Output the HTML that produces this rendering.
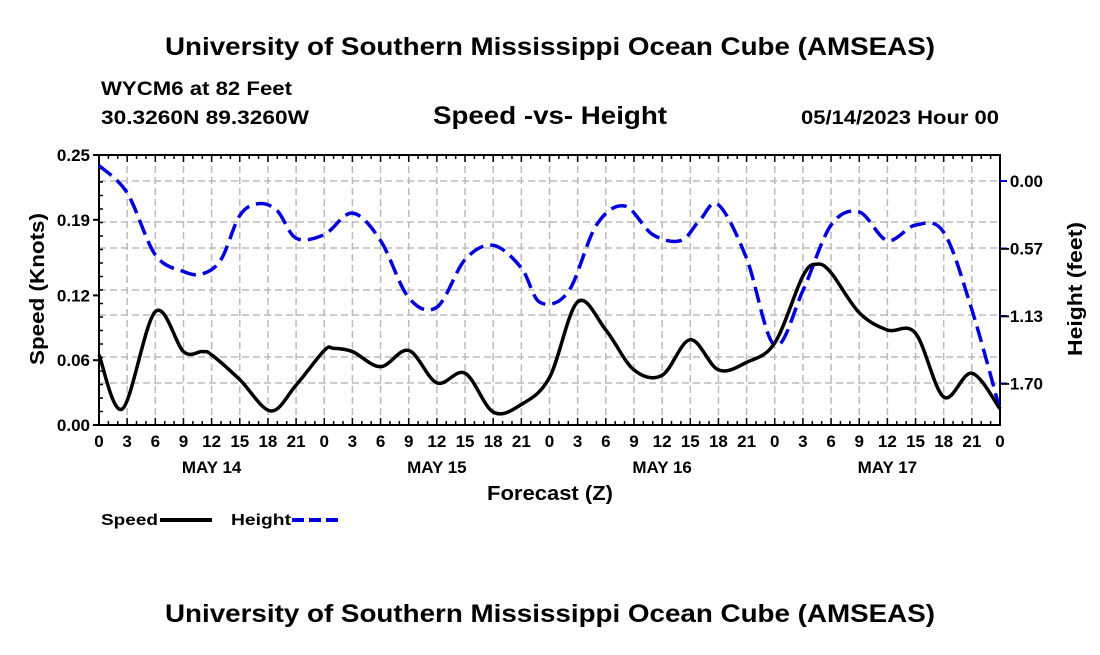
<!DOCTYPE html>
<html><head><meta charset="utf-8"><style>
body{margin:0;background:#fff;}
svg text{font-family:"Liberation Sans",Arial,sans-serif;font-weight:bold;fill:#000;}
</style></head><body>
<svg id="c" width="1100" height="650" xmlns="http://www.w3.org/2000/svg">
<text x="550" y="55" text-anchor="middle" font-size="25" textLength="770" lengthAdjust="spacingAndGlyphs">University of Southern Mississippi Ocean Cube (AMSEAS)</text>
<text x="101" y="95" font-size="19" textLength="191" lengthAdjust="spacingAndGlyphs">WYCM6 at 82 Feet</text>
<text x="101" y="124" font-size="19" textLength="208" lengthAdjust="spacingAndGlyphs">30.3260N  89.3260W</text>
<text x="550" y="124" text-anchor="middle" font-size="25" textLength="234" lengthAdjust="spacingAndGlyphs">Speed -vs- Height</text>
<text x="999" y="124" text-anchor="end" font-size="19" textLength="198" lengthAdjust="spacingAndGlyphs">05/14/2023 Hour 00</text>
<g id="grid"></g><g id="axes"></g><g id="series"></g>
<text x="550" y="500" text-anchor="middle" font-size="20" textLength="126" lengthAdjust="spacingAndGlyphs">Forecast (Z)</text>
<text transform="translate(44,289) rotate(-90)" text-anchor="middle" font-size="20" textLength="152" lengthAdjust="spacingAndGlyphs">Speed (Knots)</text>
<text transform="translate(1082,289) rotate(-90)" text-anchor="middle" font-size="20" textLength="134" lengthAdjust="spacingAndGlyphs">Height (feet)</text>
<g>
<text x="101" y="525" font-size="16" textLength="57" lengthAdjust="spacingAndGlyphs">Speed</text>
<line x1="160" y1="520" x2="212" y2="520" stroke="#000" stroke-width="4"/>
<text x="231" y="525" font-size="16" textLength="60" lengthAdjust="spacingAndGlyphs">Height</text>
<line x1="292" y1="520" x2="342" y2="520" stroke="#0000dd" stroke-width="4" stroke-dasharray="12,5"/>
</g>
<text x="550" y="622" text-anchor="middle" font-size="25" textLength="770" lengthAdjust="spacingAndGlyphs">University of Southern Mississippi Ocean Cube (AMSEAS)</text>
</svg>
<script>
const speedHours=[0,2.5,6,9,11,12,15,18.3,21,24,25,27,30,33,36,39,42,45,48,51,54,57,60,63,66,69,72,75,76.5,78,81,84,87,90,93,96];
const speedVals=[0.065,0.015,0.105,0.068,0.068,0.065,0.042,0.013,0.037,0.069,0.071,0.068,0.054,0.069,0.039,0.048,0.012,0.019,0.044,0.114,0.088,0.051,0.046,0.079,0.051,0.058,0.076,0.138,0.149,0.141,0.104,0.088,0.085,0.026,0.048,0.015];
const heightHours=[0,3,6,9,11,13,15,17,19,21,24,27,30,33,36,39,42,45,47,50,53,56,59,62,64,66,69,72,75,78,81,84,87,90,93,96];
const heightVals=[0.13,-0.10,-0.62,-0.76,-0.78,-0.66,-0.29,-0.19,-0.25,-0.48,-0.45,-0.27,-0.50,-0.98,-1.06,-0.66,-0.54,-0.73,-1.02,-0.93,-0.37,-0.21,-0.45,-0.50,-0.33,-0.20,-0.65,-1.38,-0.92,-0.37,-0.26,-0.50,-0.37,-0.43,-1.08,-1.92];
const leftTicks=[0,0.06,0.12,0.19,0.25];
const leftTickLabels=["0.00","0.06","0.12","0.19","0.25"];
const rightTicks=[0,-0.5667,-1.1333,-1.70];
const rightTickLabels=["0.00","\u22120.57","\u22121.13","\u22121.70"];
const dayLabels=["MAY 14","MAY 15","MAY 16","MAY 17"];
const X0=99,X1=1000,Y0=425,Y1=155;
const xs=h=>X0+(X1-X0)*h/96;
const ys=v=>Y0-(Y0-Y1)*v/0.25;
const yh=v=>181-v*67.5/0.5667;
const NS="http://www.w3.org/2000/svg";
function mk(p,t,a){const e=document.createElementNS(NS,t);for(const k in a)e.setAttribute(k,a[k]);p.appendChild(e);return e;}
const grid=document.getElementById('grid'),axes=document.getElementById('axes'),ser=document.getElementById('series');
for(let h=3;h<96;h+=3){const l=mk(grid,'line',{x1:xs(h),x2:xs(h),y1:Y1,y2:Y0,stroke:'#bbb','stroke-width':1.5,'stroke-dasharray':'7,4'});

}
[181,222,248,290,315,357,383].forEach(y=>{const l=mk(grid,'line',{x1:X0,x2:X1,y1:y,y2:y,stroke:'#bbb','stroke-width':1.5,'stroke-dasharray':'7,4'});

});
const f=mk(axes,'rect',{x:X0,y:Y1,width:X1-X0,height:Y0-Y1,fill:'none',stroke:'#000','stroke-width':2});


for(let h=0;h<=96;h+=1){const len=h%3==0?7:4;mk(axes,'line',{x1:xs(h),x2:xs(h),y1:Y0,y2:Y0-len,stroke:'#000','stroke-width':1.5});mk(axes,'line',{x1:xs(h),x2:xs(h),y1:Y1,y2:Y1+len,stroke:'#000','stroke-width':1.5});}
for(let v=0;v<=0.25;v+=0.0125){mk(axes,'line',{x1:X0,x2:X0+4,y1:ys(v),y2:ys(v),stroke:'#000','stroke-width':1.5});}
for(let h=0;h<=96;h+=3){const t=mk(axes,'text',{x:xs(h),y:Y0+22,'text-anchor':'middle','font-size':17});t.textContent=String(h%24);

}
dayLabels.forEach((d,i)=>{const t=mk(axes,'text',{x:xs(12+24*i),y:Y0+48,'text-anchor':'middle','font-size':17});t.textContent=d;

});
leftTicks.forEach((v,i)=>{mk(axes,'line',{x1:X0-6,x2:X0,y1:ys(v),y2:ys(v),stroke:'#000','stroke-width':2});
const t=mk(axes,'text',{x:X0-9,y:ys(v)+6,'text-anchor':'end','font-size':17});t.textContent=leftTickLabels[i];

});
rightTicks.forEach((v,i)=>{mk(axes,'line',{x1:X1,x2:X1+7,y1:yh(v),y2:yh(v),stroke:'#0000dd','stroke-width':2});
const t=mk(axes,'text',{x:1043,y:yh(v)+6,'text-anchor':'end','font-size':17});t.textContent=rightTickLabels[i];

});
function path(pts){let d='M'+pts[0][0]+','+pts[0][1];for(let i=0;i<pts.length-1;i++){const p0=pts[Math.max(0,i-1)],p1=pts[i],p2=pts[i+1],p3=pts[Math.min(pts.length-1,i+2)];
d+=' C'+(p1[0]+(p2[0]-p0[0])/6)+','+(p1[1]+(p2[1]-p0[1])/6)+' '+(p2[0]-(p3[0]-p1[0])/6)+','+(p2[1]-(p3[1]-p1[1])/6)+' '+p2[0]+','+p2[1];}return d;}
const hp=mk(ser,'path',{d:path(heightHours.map((h,i)=>[xs(h),yh(heightVals[i])])),fill:'none',stroke:'#0000dd','stroke-width':3.5,'stroke-dasharray':'16,7'});


const sp=mk(ser,'path',{d:path(speedHours.map((h,i)=>[xs(h),ys(speedVals[i])])),fill:'none',stroke:'#000','stroke-width':3.5});


</script>
</body></html>
